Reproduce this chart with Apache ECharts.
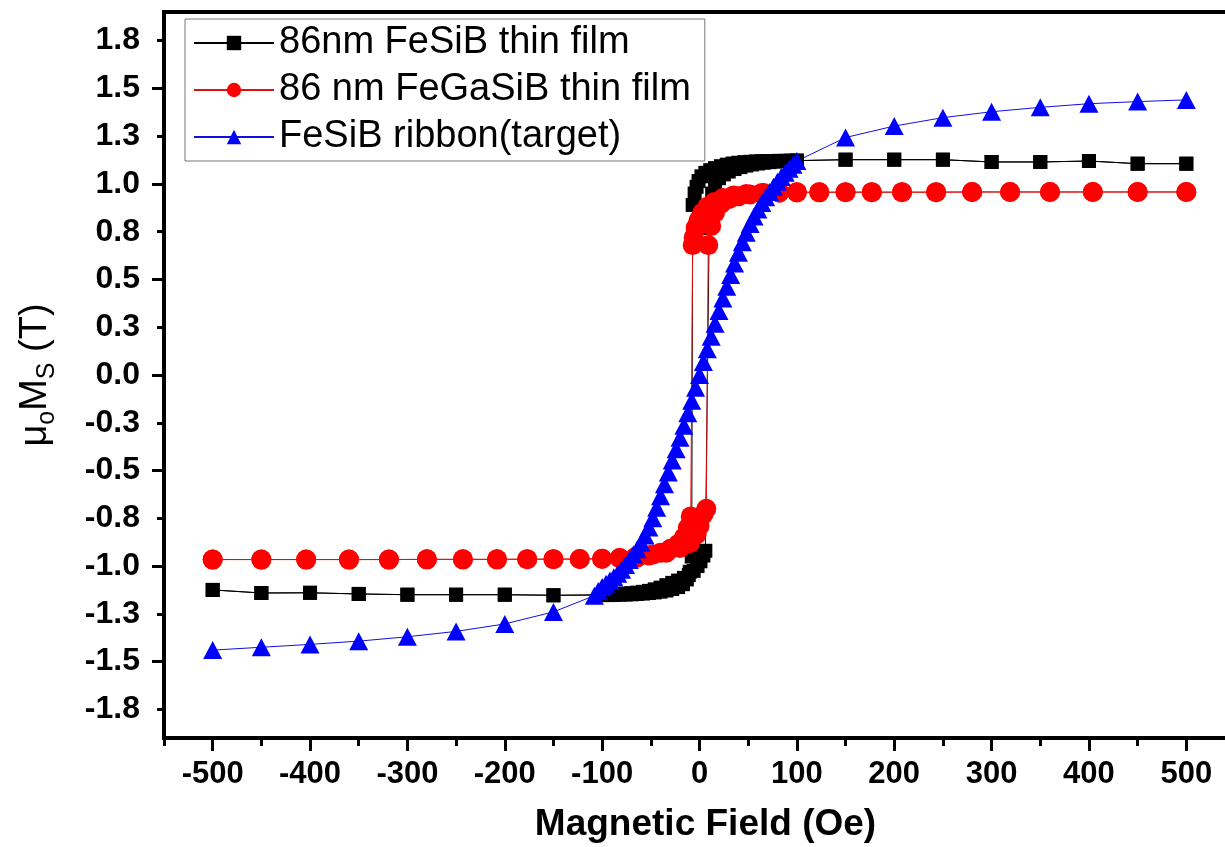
<!DOCTYPE html>
<html>
<head>
<meta charset="utf-8">
<title>Hysteresis loops</title>
<script src="https://cdn.jsdelivr.net/npm/echarts@6/dist/echarts.min.js"></script>
<style>
  html, body { margin: 0; padding: 0; background: #fff; }
  #chart { width: 1225px; height: 847px; }
</style>
</head>
<body>
<div id="chart"></div>
<script>
// Field axis (Oe) and magnetisation axis (T) tick positions
const fieldLabelTicks = [-500, -400, -300, -200, -100, 0, 100, 200, 300, 400, 500];
const fieldMinorTicks = [-550, -450, -350, -250, -150, -50, 50, 150, 250, 350, 450, 550];
const momentLabelTicks = [-1.75, -1.5, -1.25, -1.0, -0.75, -0.5, -0.25, 0, 0.25, 0.5, 0.75, 1.0, 1.25, 1.5, 1.75];
const momentMajorTicks = [-1.5, -1.0, -0.5, 0, 0.5, 1.0, 1.5];
const momentMinorTicks = [-1.75, -1.25, -0.75, -0.25, 0.25, 0.75, 1.25, 1.75];

const seriesNames = ['86nm FeSiB thin film', '86 nm FeGaSiB thin film', 'FeSiB ribbon(target)'];

// 86nm FeSiB film: [field Oe, moment T], sweep +500 -> -500
const fesibDown = [
  [500, 1.106], [450, 1.106], [400, 1.12], [350, 1.115], [300, 1.115], [250, 1.127], [200, 1.127], [150, 1.127],
  [100, 1.122], [94, 1.122], [88, 1.121], [82, 1.121], [76, 1.12], [70, 1.12], [64, 1.119], [58, 1.118],
  [52, 1.116], [46, 1.114], [40, 1.111], [34, 1.107], [28, 1.101], [22, 1.093], [16, 1.083], [11, 1.072],
  [6, 1.058], [2, 1.04], [-1, 1.015], [-3, 0.985], [-5, 0.95], [-7, 0.89],
  [-8, -0.95], [-10, -1.03], [-13, -1.07], [-17, -1.095], [-22, -1.11], [-28, -1.12], [-34, -1.128],
  [-40, -1.134], [-46, -1.138], [-52, -1.141], [-58, -1.144], [-64, -1.146], [-70, -1.148], [-76, -1.149],
  [-82, -1.15], [-88, -1.151], [-94, -1.152], [-100, -1.152],
  [-150, -1.153], [-200, -1.15], [-250, -1.15], [-300, -1.15], [-350, -1.146], [-400, -1.14], [-450, -1.141], [-500, -1.125]
];
// 86nm FeSiB film, return sweep -500 -> +500
const fesibUp = [
  [-500, -1.125], [-450, -1.141], [-400, -1.14], [-350, -1.146], [-300, -1.15], [-250, -1.15], [-200, -1.15], [-150, -1.153],
  [-100, -1.15], [-94, -1.149], [-88, -1.148], [-82, -1.146], [-76, -1.144], [-70, -1.142], [-64, -1.139],
  [-58, -1.135], [-52, -1.13], [-46, -1.122], [-40, -1.113], [-34, -1.1], [-28, -1.088], [-22, -1.076],
  [-16, -1.062], [-11, -1.047], [-6, -1.025], [-2, -1.0], [1, -0.975], [4, -0.945], [6, -0.92],
  [10, 0.77], [13, 0.95], [16, 1.0], [20, 1.03], [25, 1.05], [30, 1.065], [36, 1.078], [42, 1.088],
  [48, 1.096], [54, 1.102], [60, 1.107], [66, 1.111], [72, 1.114], [78, 1.117], [84, 1.119], [90, 1.12],
  [96, 1.121], [100, 1.122],
  [150, 1.127], [200, 1.127], [250, 1.127], [300, 1.115], [350, 1.115], [400, 1.12], [450, 1.106], [500, 1.106]
];

// 86 nm FeGaSiB film, sweep +500 -> -500
const fegasibDown = [
  [500, 0.958], [450, 0.958], [404, 0.958], [360, 0.958], [319, 0.958], [280, 0.958], [243, 0.957], [208, 0.957],
  [177, 0.957], [150, 0.957], [123, 0.956], [100, 0.956],
  [82, 0.955], [64, 0.953], [48, 0.948], [35, 0.94], [24, 0.926], [15, 0.905], [8, 0.88], [3, 0.85],
  [-1, 0.81], [-4, 0.77], [-6, 0.72], [-7, 0.68],
  [-9, -0.74], [-12, -0.8], [-16, -0.85], [-22, -0.885], [-30, -0.91], [-40, -0.93], [-52, -0.945],
  [-66, -0.953], [-82, -0.958], [-100, -0.962],
  [-123, -0.963], [-150, -0.964], [-177, -0.964], [-208, -0.965], [-243, -0.965], [-280, -0.965],
  [-319, -0.966], [-360, -0.966], [-404, -0.966], [-450, -0.966], [-500, -0.966]
];
// 86 nm FeGaSiB film, return sweep -500 -> +500
const fegasibUp = [
  [-500, -0.966], [-450, -0.966], [-404, -0.966], [-360, -0.966], [-319, -0.966], [-280, -0.965], [-243, -0.965],
  [-208, -0.965], [-177, -0.964], [-150, -0.964], [-123, -0.963], [-100, -0.962],
  [-82, -0.958], [-64, -0.955], [-48, -0.94], [-34, -0.93], [-20, -0.905], [-10, -0.88], [-3, -0.835],
  [0, -0.79], [4, -0.73], [7, -0.7],
  [9, 0.68], [12, 0.78], [16, 0.85], [22, 0.895], [30, 0.92], [40, 0.935], [52, 0.945], [66, 0.952],
  [82, 0.955], [100, 0.957],
  [123, 0.957], [150, 0.957], [177, 0.957], [208, 0.957], [243, 0.957], [280, 0.958], [319, 0.958],
  [360, 0.958], [404, 0.958], [450, 0.958], [500, 0.958]
];

// FeSiB ribbon (target)
const ribbon = [
  [-500, -1.44], [-450, -1.425], [-400, -1.41], [-350, -1.393], [-300, -1.37], [-250, -1.342], [-200, -1.303], [-150, -1.24],
  [-108, -1.155], [-104, -1.13], [-100, -1.11], [-96, -1.093], [-92, -1.076], [-88, -1.058], [-84, -1.04],
  [-80, -1.02], [-76, -0.995], [-72, -0.968], [-68, -0.94], [-64, -0.912], [-60, -0.878], [-56, -0.84],
  [-52, -0.798], [-48, -0.75], [-44, -0.695], [-40, -0.635], [-36, -0.572], [-32, -0.51], [-28, -0.448],
  [-24, -0.388], [-20, -0.328], [-16, -0.265], [-12, -0.2], [-8, -0.135], [-4, -0.067], [0, 0.0],
  [4, 0.068], [8, 0.135], [12, 0.2], [16, 0.268], [20, 0.335], [24, 0.4], [28, 0.462], [32, 0.523],
  [36, 0.583], [40, 0.64], [44, 0.695], [48, 0.745], [52, 0.79], [56, 0.83], [60, 0.866], [64, 0.9],
  [68, 0.93], [72, 0.958], [76, 0.985], [80, 1.012], [84, 1.036], [88, 1.058], [92, 1.08], [96, 1.1], [100, 1.12],
  [150, 1.243], [200, 1.303], [250, 1.347], [300, 1.378], [350, 1.401], [400, 1.42], [450, 1.431], [500, 1.44]
];

const FONT = '"Liberation Sans", Arial, Helvetica, sans-serif';
const chart = echarts.init(document.getElementById('chart'), null, { renderer: 'canvas' });

const tickLine = { color: '#000', width: 3 };

chart.setOption({
  animation: false,
  backgroundColor: '#fff',
  grid: {
    left: 164, top: 12, right: -10, bottom: 109,
    show: true, borderColor: '#000', borderWidth: 4,
    containLabel: false, outerBoundsMode: 'none'
  },
  legend: {
    orient: 'vertical',
    left: 185, top: 19,
    padding: [5, 14, 5, 8],
    itemGap: 9,
    itemWidth: 80,
    itemHeight: 18,
    borderColor: '#777', borderWidth: 1, backgroundColor: '#fff',
    textStyle: { fontFamily: FONT, fontSize: 38, lineHeight: 38, color: '#000' },
    data: seriesNames
  },
  xAxis: [
    {
      type: 'value', min: -550, max: 550, position: 'bottom',
      axisLine: { show: true, onZero: false, lineStyle: { color: '#000', width: 4 } },
      axisTick: { show: true, inside: false, length: 13, lineStyle: tickLine, customValues: fieldLabelTicks },
      axisLabel: {
        customValues: fieldLabelTicks, margin: 21,
        fontFamily: FONT, fontSize: 31, fontWeight: 'bold', color: '#000',
        formatter: v => String(v)
      },
      splitLine: { show: false },
      name: 'Magnetic Field (Oe)', nameLocation: 'middle', nameGap: 68,
      nameTextStyle: { fontFamily: FONT, fontSize: 37, fontWeight: 'bold', color: '#000', padding: [0, 0, 0, 12] }
    },
    {
      type: 'value', min: -550, max: 550, position: 'bottom',
      axisLine: { show: false, onZero: false },
      axisTick: { show: true, inside: false, length: 8, lineStyle: tickLine, customValues: fieldMinorTicks },
      axisLabel: { show: false },
      splitLine: { show: false }
    },
    {
      // heavy top edge of the frame
      type: 'value', min: -550, max: 550, position: 'top',
      axisLine: { show: true, onZero: false, lineStyle: { color: '#000', width: 4 } },
      axisTick: { show: false },
      axisLabel: { show: false },
      splitLine: { show: false }
    }
  ],
  yAxis: [
    {
      type: 'value', min: -1.9, max: 1.9, position: 'left',
      axisLine: { show: true, onZero: false, lineStyle: { color: '#000', width: 4 } },
      axisTick: { show: true, inside: false, length: 12, lineStyle: tickLine, customValues: momentMajorTicks },
      axisLabel: {
        customValues: momentLabelTicks, margin: 24,
        fontFamily: FONT, fontSize: 32, fontWeight: 'bold', color: '#000',
        formatter: v => v.toFixed(1)
      },
      splitLine: { show: false },
      name: '{a|μ}{s|o}{a|M}{s|S}{a| (T)}',
      nameLocation: 'middle', nameRotate: 90, nameGap: 104,
      nameTextStyle: {
        fontFamily: FONT, color: '#000',
        rich: {
          a: { fontFamily: FONT, fontSize: 38, lineHeight: 48, color: '#000' },
          s: { fontFamily: FONT, fontSize: 25, lineHeight: 24, verticalAlign: 'bottom', color: '#000' }
        }
      }
    },
    {
      type: 'value', min: -1.9, max: 1.9, position: 'left',
      axisLine: { show: false, onZero: false },
      axisTick: { show: true, inside: false, length: 7, lineStyle: tickLine, customValues: momentMinorTicks },
      axisLabel: { show: false },
      splitLine: { show: false }
    }
  ],
  series: [
    {
      name: seriesNames[0], type: 'line', xAxisIndex: 0, yAxisIndex: 0,
      data: fesibDown.concat(fesibUp),
      symbol: 'rect', symbolSize: 14, showSymbol: true, showAllSymbol: true,
      itemStyle: { color: '#000' },
      lineStyle: { color: '#000', width: 1 }
    },
    {
      name: seriesNames[1], type: 'line', xAxisIndex: 0, yAxisIndex: 0,
      data: fegasibDown.concat(fegasibUp),
      symbol: 'circle', symbolSize: 20, showSymbol: true, showAllSymbol: true,
      itemStyle: { color: '#ff0000', borderWidth: 0 },
      lineStyle: { color: '#e01010', width: 1 }
    },
    {
      name: seriesNames[2], type: 'line', xAxisIndex: 0, yAxisIndex: 0,
      data: ribbon,
      symbol: 'triangle', symbolSize: [19, 18], showSymbol: true, showAllSymbol: true,
      itemStyle: { color: '#0000ff', borderWidth: 0 },
      lineStyle: { color: '#1010e0', width: 1 }
    }
  ]
});
</script>
</body>
</html>
